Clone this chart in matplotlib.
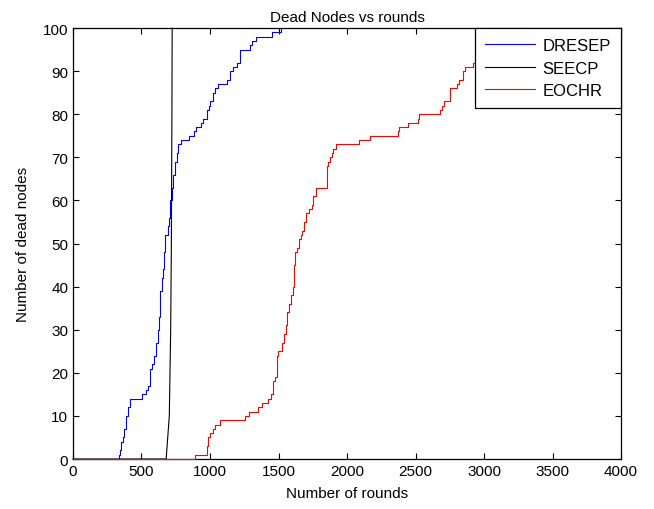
import matplotlib
matplotlib.use('Agg')
import matplotlib.pyplot as plt
import numpy as np

plt.rcParams['font.family'] = ['Liberation Sans', 'DejaVu Sans']

# ── Data: (round, dead nodes) breakpoints ────────────────────────────────
dresep_rounds = [0, 336, 345, 352, 362, 372, 385, 400, 416, 506, 530, 550, 562,
                 574, 594, 604, 618, 630, 635, 647, 655, 662, 672, 690, 696,
                 703, 708, 720, 732, 745, 757, 769, 788, 847, 886, 896, 934,
                 951, 976, 990, 1000, 1024, 1040, 1061, 1122, 1146, 1166,
                 1200, 1219, 1292, 1304, 1336, 1450, 1520]
dresep_dead = [0, 1, 2, 4, 5, 7, 10, 12, 14, 15, 16, 17, 21,
               22, 24, 27, 30, 33, 39, 42, 44, 48, 52, 53, 54,
               56, 60, 63, 66, 69, 71, 73, 74, 75, 76, 77, 78,
               79, 81, 82, 83, 85, 86, 87, 88, 90, 91,
               92, 95, 96, 97, 98, 99, 100]

seecp_rounds = [0, 680, 703, 713, 718, 722, 724]
seecp_dead = [0, 0, 10, 30, 50, 80, 100]

eochr_rounds = [0, 890, 980, 988, 1000, 1020, 1036, 1073, 1255, 1287, 1353,
                1377, 1426, 1443, 1457, 1474, 1487, 1499, 1523, 1540, 1555,
                1564, 1579, 1589, 1604, 1615, 1623, 1637, 1652, 1664, 1674,
                1689, 1701, 1710, 1725, 1745, 1754, 1774, 1783, 1856, 1864,
                1876, 1888, 1900, 1920, 2088, 2168, 2370, 2380, 2443, 2516,
                2526, 2679, 2691, 2710, 2752, 2800, 2820, 2844, 2861, 2922,
                2934, 2980, 3050, 3150, 3300]
eochr_dead = [0, 1, 3, 5, 6, 7, 8, 9, 10, 11, 12,
              13, 14, 15, 18, 19, 24, 25, 27, 29, 31,
              34, 36, 38, 40, 45, 48, 49, 51, 52, 53,
              55, 57, 57, 58, 59, 61, 63, 63, 68, 69,
              70, 71, 72, 73, 74, 75, 76, 77, 78, 79,
              80, 81, 82, 83, 86, 87, 88, 90, 91, 92,
              93, 95, 97, 99, 100]

x_ticks = np.arange(0, 4001, 500)
y_ticks = np.arange(0, 101, 10)

# ── Figure ───────────────────────────────────────────────────────────────
fig = plt.figure(figsize=(6.54, 5.10), dpi=100)
ax = fig.add_axes([0.1116, 0.098, 0.838, 0.845])

# lines sit above the axes frame, as in the original (red runs along y=0)
ax.step(dresep_rounds, dresep_dead, where='post', color='#0000ff',
        linewidth=0.8, label='DRESEP', zorder=3, clip_on=False)
ax.plot(seecp_rounds, seecp_dead, color='black', linewidth=0.8,
        label='SEECP', zorder=3, clip_on=False)
ax.step(eochr_rounds, eochr_dead, where='post', color='#ff0000',
        linewidth=0.8, label='EOCHR', zorder=3.5, clip_on=False)

ax.set_xlim(0, 4000)
ax.set_ylim(0, 100)
ax.set_xticks(x_ticks)
ax.set_yticks(y_ticks)
ax.tick_params(direction='in', top=True, right=True, labelsize=11,
               length=4, width=0.8)
for s in ax.spines.values():
    s.set_linewidth(0.9)

ax.set_xlabel('Number of rounds', fontsize=11, labelpad=6)
ax.set_ylabel('Number of dead nodes', fontsize=11, labelpad=9)
ax.set_title('Dead Nodes vs rounds', fontsize=11, pad=5)

leg = ax.legend(loc='upper right', fontsize=12, fancybox=False,
                framealpha=1, edgecolor='black', borderaxespad=0,
                handlelength=3.0, handletextpad=0.45, borderpad=0.6,
                labelspacing=0.45)
leg.get_frame().set_linewidth(0.9)
leg.set_zorder(5)

fig.savefig('out.png', dpi=100, facecolor='white')
plt.close(fig)
